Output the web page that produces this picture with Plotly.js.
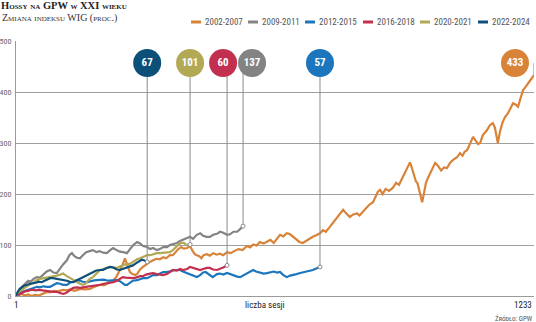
<!DOCTYPE html>
<html>
<head>
<meta charset="utf-8">
<script src="https://cdn.plot.ly/plotly-3.0.1.min.js"></script>
<style>html,body{margin:0;padding:0;background:#fff;}#chart{width:536px;height:322px;}</style>
</head>
<body>
<div id="chart"></div>
<script>
// ---------- DATA ----------
const seriesNames = ['2002-2007', '2009-2011', '2012-2015', '2016-2018', '2020-2021', '2022-2024'];

const sessions0207 = [1,8,15,22,30,38,46,55,65,75,82,90,100,113,122,130,140,146,155,165,177,185,195,201,210,218,225,232,240,248,254,260,264,268,272,278,285,290,296,303,310,318,327,335,343,351,358,367,374,380,387,394,400,408,415,420,426,431,437,442,447,455,462,470,478,486,494,503,512,520,530,540,550,558,565,573,581,590,598,606,614,622,629,637,645,653,660,668,675,683,690,698,707,715,724,731,738,746,755,762,770,779,785,790,795,803,812,818,825,832,840,850,857,862,867,873,880,888,897,905,912,921,928,934,938,943,948,952,956,960,964,967,971,976,981,986,992,998,1005,1012,1019,1026,1034,1042,1050,1057,1063,1068,1074,1080,1088,1094,1100,1105,1111,1116,1121,1128,1135,1140,1144,1147,1152,1158,1164,1170,1176,1183,1190,1195,1200,1207,1213,1219,1226,1233];
const values0207 = [0,2,4,1,3,0,2,1,5,8,7,10,9,12,11,13,10,12,14,13,14,17,20,22,21,25,27,30,38,51,60,74,66,55,47,43,41,44,52,57,62,66,70,73,72,76,74,80,80,86,92,96,93,94,98,90,82,80,78,74,80,82,79,84,81,83,80,86,84,88,92,90,98,95,101,99,106,103,106,110,104,112,120,117,123,121,116,110,106,104,108,112,116,119,123,129,126,134,143,150,160,169,163,158,155,160,162,158,165,172,178,184,196,205,208,200,210,206,212,222,218,233,245,255,262,250,235,225,221,205,190,184,200,222,232,241,250,261,255,246,252,251,262,268,272,280,275,283,286,298,312,305,298,300,315,320,325,335,339,330,312,300,322,340,351,357,366,378,375,371,385,404,410,418,425,433];

const sessions0911 = [1,6,12,18,24,30,36,42,50,58,66,74,82,90,98,106,113,122,128,134,140,146,153,160,168,176,184,192,200,208,217,225,232,240,248,256,265,272,280,289,296,303,313,320,327,336,343,351,360,367,374,384,391,398,408,415,422,431,439,446,454,462,470,479,486,494,503,510,518,527,534,541];
const values0911 = [0,8,15,20,26,30,28,33,37,36,42,48,51,46,45,55,62,70,80,84,78,75,74,80,86,88,90,86,88,85,84,90,94,90,87,86,84,92,100,106,103,98,96,92,94,90,92,96,96,100,102,104,108,110,114,116,112,120,123,118,116,116,120,122,126,124,120,121,126,126,131,137];

const sessions1215 = [1,8,15,22,27,34,41,51,58,66,75,82,89,98,106,113,122,129,137,146,153,160,170,177,184,192,201,210,220,230,241,248,255,260,265,272,279,289,296,303,313,320,327,336,343,351,360,367,374,384,391,398,408,415,422,431,439,446,452,458,464,469,474,479,486,494,503,510,518,527,534,541,550,558,565,572,581,590,598,606,614,622,629,637,645,653,660,668,677,683,690,698,707,715,724];
const values1215 = [0,5,8,10,12,14,16,18,17,19,18,18,21,25,24,22,22,26,28,31,30,28,27,29,30,31,31,32,30,31,31,29,25,22,22,26,30,31,33,35,35,38,41,41,44,47,47,49,50,51,51,48,45,43,40,37,41,46,47,43,39,37,40,43,44,42,45,43,40,38,37,40,44,48,51,48,46,44,45,47,48,46,47,41,37,40,42,43,45,46,48,50,51,54,57];

const sessions1618 = [1,8,15,22,30,36,41,48,55,62,70,75,82,90,98,106,113,120,128,137,146,153,160,170,177,184,192,201,210,217,225,232,241,248,255,262,272,279,286,296,303,310,320,327,336,343,351,360,367,374,384,391,398,408,415,422,431,439,446,455,462,470,479,486,494,503];
const values1618 = [0,3,6,9,10,12,12,11,12,11,10,10,9,8,8,6,4,6,10,16,17,16,17,18,19,20,21,22,24,25,26,27,30,34,37,36,35,35,36,39,39,42,44,45,43,42,41,43,47,51,50,53,51,53,57,55,52,51,53,55,55,52,51,53,56,60];

const sessions2021 = [1,5,11,18,24,30,36,41,48,55,62,70,75,82,90,98,106,113,120,128,137,146,153,160,166,172,177,184,192,201,208,217,225,232,241,248,255,265,272,280,289,296,303,313,320,327,336,343,351,360,367,374,381,388,394,400,405,410,415];
const values2021 = [0,6,10,14,18,22,24,25,30,33,34,36,36,37,38,40,42,44,40,36,31,26,24,22,24,30,34,37,44,51,53,55,57,56,55,58,60,63,63,68,72,74,77,80,80,82,84,84,85,86,86,90,96,101,104,104,101,99,101];

const sessions2224 = [1,5,10,15,20,27,34,41,48,55,62,70,75,82,89,98,106,113,122,129,137,146,153,160,170,177,184,192,201,208,217,225,232,241,248,255,265,272,279,286,293,300,305,309,313];
const values2224 = [0,8,14,18,20,22,24,25,26,28,27,30,33,35,35,34,33,31,30,28,27,31,34,37,41,45,47,50,51,51,55,57,56,52,51,53,56,59,60,64,68,71,70,68,67];

const xTickLabels = ['1', '1233'];
const yTickValues = [0, 100, 200, 300, 400, 500];

// ---------- STYLE ----------
const colors = ['#d98339', '#838383', '#1c76bd', '#c2304f', '#b3a955', '#0c4f79'];
const bubbleShiftPx = [-19, 9, 0, -4, 0, 0];   // horizontal offsets of the value bubbles
const legendSwatchPx = [191, 248, 305, 363, 420, 478];

const allX = [sessions0207, sessions0911, sessions1215, sessions1618, sessions2021, sessions2224];
const allY = [values0207, values0911, values1215, values1618, values2021, values2224];

const W = 536, H = 322;
const M = {l: 16, r: 2, t: 41, b: 26};
const plotW = W - M.l - M.r, plotH = H - M.t - M.b;
const xMin = 1, xMax = 1233, yMin = 0, yMax = 500;
const pxX = px => (px - M.l) / plotW;          // paper x from pixel
const pxY = py => (H - M.b - py) / plotH;      // paper y from pixel
const pxToSessions = dpx => dpx * (xMax - xMin) / plotW;
const bubbleY = yMax - (63 - M.t) * (yMax - yMin) / plotH;

const narrow = '"Liberation Sans Narrow", "Roboto Condensed", Roboto, sans-serif';
const serif = '"Liberation Serif", "DejaVu Serif", serif';

const traces = [];
// series lines
allX.forEach((xs, i) => {
  traces.push({x: xs, y: allY[i], type: 'scatter', mode: 'lines',
    line: {color: colors[i], width: 2.2}, showlegend: false, hoverinfo: 'skip'});
});
// connectors from series end to bubble
allX.forEach((xs, i) => {
  const ex = xs[xs.length - 1], ey = allY[i][allY[i].length - 1];
  traces.push({x: [ex, ex], y: [ey, bubbleY], type: 'scatter', mode: 'lines',
    line: {color: '#8a8a8a', width: 1}, showlegend: false, hoverinfo: 'skip'});
});
// end dots
traces.push({
  x: allX.slice(1).map(xs => xs[xs.length - 1]),
  y: allY.slice(1).map(ys => ys[ys.length - 1]),
  type: 'scatter', mode: 'markers', showlegend: false, hoverinfo: 'skip',
  marker: {size: 4, color: '#ffffff', line: {color: '#8a8a8a', width: 1}}
});
// bubbles
traces.push({
  x: allX.map((xs, i) => xs[xs.length - 1] + pxToSessions(bubbleShiftPx[i])),
  y: allX.map(() => bubbleY),
  text: allY.map(ys => String(Math.round(ys[ys.length - 1]))),
  type: 'scatter', mode: 'markers+text', textposition: 'middle center',
  showlegend: false, hoverinfo: 'skip', cliponaxis: false,
  marker: {size: 28, color: colors, line: {width: 0}},
  textfont: {family: narrow, size: 11, color: '#ffffff', weight: 'bold'}
});

const shapes = [];
const annotations = [];
// manual legend
seriesNames.forEach((name, i) => {
  const x0 = legendSwatchPx[i];
  shapes.push({type: 'line', xref: 'paper', yref: 'paper',
    x0: pxX(x0), x1: pxX(x0 + 10), y0: pxY(22), y1: pxY(22),
    line: {color: colors[i], width: 3}});
  annotations.push({xref: 'paper', yref: 'paper', x: pxX(x0 + 12), y: pxY(22),
    xanchor: 'left', yanchor: 'middle', showarrow: false, text: name,
    font: {family: narrow, size: 9, color: '#555555'}});
});
// subtitle
annotations.push({xref: 'paper', yref: 'paper', x: pxX(0), y: pxY(17.5),
  xanchor: 'left', yanchor: 'middle', showarrow: false,
  text: 'Zmiana indeksu WIG (proc.)',
  font: {family: serif, size: 10, color: '#333333', variant: 'small-caps'}});
// x labels
annotations.push({xref: 'x', yref: 'paper', x: xMin, y: pxY(305), xanchor: 'center', yanchor: 'middle',
  showarrow: false, text: xTickLabels[0], font: {family: narrow, size: 9, color: '#222222'}});
annotations.push({xref: 'x', yref: 'paper', x: xMax, y: pxY(305), xanchor: 'right', yanchor: 'middle',
  showarrow: false, text: xTickLabels[1], font: {family: narrow, size: 9, color: '#222222'}});
annotations.push({xref: 'paper', yref: 'paper', x: pxX(265), y: pxY(305), xanchor: 'center', yanchor: 'middle',
  showarrow: false, text: 'liczba sesji', font: {family: narrow, size: 9, color: '#222222'}});
annotations.push({xref: 'paper', yref: 'paper', x: pxX(535), y: pxY(318), xanchor: 'right', yanchor: 'middle',
  showarrow: false, text: 'Źródło: GPW', font: {family: narrow, size: 7, color: '#555555', variant: 'small-caps'}});

const layout = {
  width: W, height: H,
  margin: M,
  paper_bgcolor: '#ffffff', plot_bgcolor: '#ffffff',
  showlegend: false,
  hovermode: false,
  title: {text: 'Hossy na GPW w XXI wieku', xref: 'container', yref: 'container',
    x: 0.002, xanchor: 'left', y: 1 - 5 / H, yanchor: 'middle',
    font: {family: serif, size: 10.5, color: '#222222', weight: 'bold', variant: 'small-caps'}},
  xaxis: {range: [xMin, xMax], showgrid: false, zeroline: false, showticklabels: false,
    showline: true, linecolor: '#9a9a9a', linewidth: 1, ticks: '', fixedrange: true},
  yaxis: {range: [yMin, yMax], tickvals: yTickValues, showgrid: true, gridcolor: '#9f9f9f', gridwidth: 1,
    zeroline: false, showline: true, linecolor: '#9a9a9a', linewidth: 1, ticks: '',
    ticklabelstandoff: 2,
    tickfont: {family: narrow, size: 8, color: '#666666'}, fixedrange: true},
  shapes: shapes,
  annotations: annotations
};

Plotly.newPlot('chart', traces, layout, {displayModeBar: false, staticPlot: true});
</script>
</body>
</html>
